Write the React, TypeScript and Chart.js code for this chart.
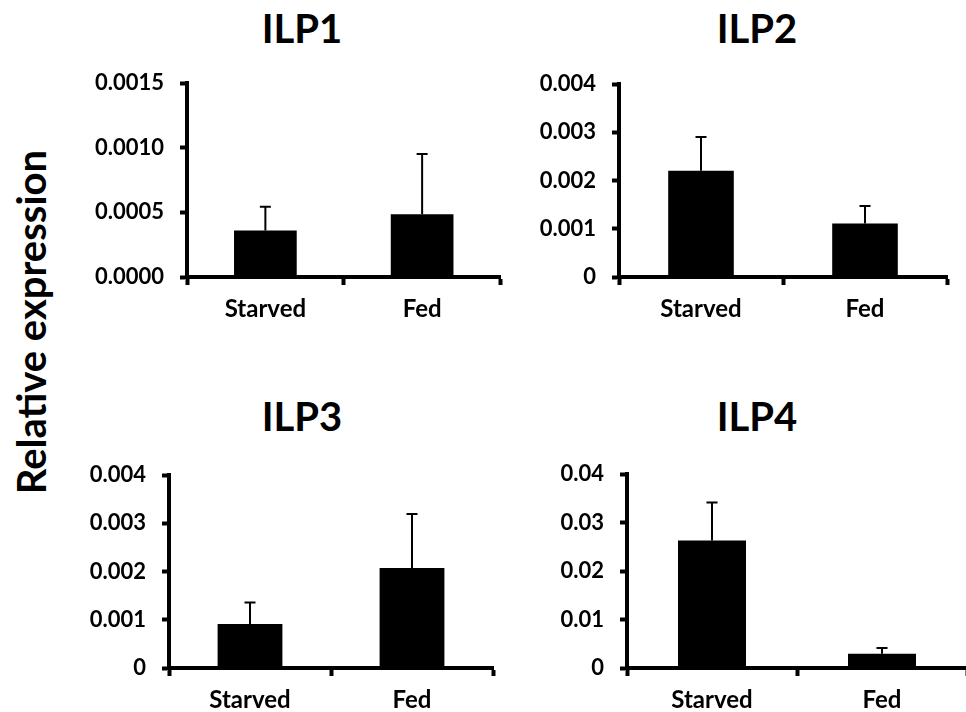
import React, { useEffect, useRef } from "react";
import { Chart, registerables } from "chart.js";

Chart.register(...registerables);

const categories = ["Starved", "Fed"];

const ilp1Values = [0.00036, 0.000485];
const ilp1Errors = [0.000184, 0.000466];
const ilp2Values = [0.0022, 0.00111];
const ilp2Errors = [0.0007, 0.00036];
const ilp3Values = [0.00091, 0.00207];
const ilp3Errors = [0.00045, 0.00112];
const ilp4Values = [0.0263, 0.00295];
const ilp4Errors = [0.0078, 0.00115];

const yMaxes = [0.0015, 0.004, 0.004, 0.04];
const ySteps = [0.0005, 0.001, 0.001, 0.01];
const yDecimals = [4, 3, 3, 2];
const titles = ["ILP1", "ILP2", "ILP3", "ILP4"];
const yAxisTitle = "Relative expression";

const FONT = "Lato, 'Open Sans', sans-serif";

// panel geometry: axis x, top tick y, zero y, right end x, title centre
const layout = [
  { axisX: 186.5, topY: 83, zeroY: 277, endX: 500, tx: 302, ty: 28 },
  { axisX: 619, topY: 84, zeroY: 277, endX: 947, tx: 757, ty: 28 },
  { axisX: 169, topY: 475, zeroY: 668, endX: 493, tx: 302, ty: 416 },
  { axisX: 627, topY: 474, zeroY: 668, endX: 967, tx: 757, ty: 416 },
];

const Y_W = 110;
const X_H = 60;
const PAD_T = 36;
const PAD_R = 6;

const errorBarPlugin = {
  id: "errorBars",
  afterDatasetsDraw(chart: any) {
    const errs: number[] = chart.options.plugins.errorBars?.errors || [];
    const vals: number[] = chart.data.datasets[0].data as number[];
    const xs = chart.scales.x;
    const ys = chart.scales.y;
    const ctx = chart.ctx;
    ctx.save();
    ctx.strokeStyle = "#000";
    ctx.lineWidth = 2;
    vals.forEach((v, i) => {
      const x = xs.getPixelForValue(i);
      const y0 = ys.getPixelForValue(v);
      const y1 = ys.getPixelForValue(v + errs[i]);
      ctx.beginPath();
      ctx.moveTo(x, y0);
      ctx.lineTo(x, y1);
      ctx.moveTo(x - 5.5, y1);
      ctx.lineTo(x + 5.5, y1);
      ctx.stroke();
    });
    ctx.restore();
  },
};

function Panel({ idx, values, errors }: { idx: number; values: number[]; errors: number[] }) {
  const ref = useRef<HTMLCanvasElement>(null);
  const g = layout[idx];
  const L = g.axisX - Y_W;
  const T = g.topY - PAD_T;
  const W = g.endX - L + PAD_R;
  const H = g.zeroY - g.topY + PAD_T + X_H;

  useEffect(() => {
    if (!ref.current) return;
    const dec = yDecimals[idx];
    const chart = new Chart(ref.current, {
      type: "bar",
      data: {
        labels: categories,
        datasets: [
          {
            data: values,
            backgroundColor: "#000",
            borderWidth: 0,
            categoryPercentage: 1,
            barPercentage: 0.4,
          },
        ],
      },
      options: {
        animation: false,
        responsive: true,
        maintainAspectRatio: false,
        layout: { padding: { top: PAD_T, right: PAD_R, left: 0, bottom: 0 } },
        plugins: {
          legend: { display: false },
          tooltip: { enabled: false },
          title: { display: false },
          errorBars: { errors },
        } as any,
        scales: {
          x: {
            type: "category",
            afterFit: (s: any) => {
              s.height = X_H;
            },
            border: { display: true, color: "#000", width: 4 },
            grid: {
              offset: true,
              drawOnChartArea: false,
              drawTicks: true,
              tickLength: 8,
              tickWidth: 4,
              tickColor: "#000",
              color: "#000",
            },
            ticks: {
              color: "#000",
              padding: 10,
              font: { family: FONT, size: 24, weight: "bold" },
            },
          },
          y: {
            type: "linear",
            min: 0,
            max: yMaxes[idx],
            afterFit: (s: any) => {
              s.width = Y_W;
            },
            border: { display: true, color: "#000", width: 4 },
            grid: {
              drawOnChartArea: false,
              drawTicks: true,
              tickLength: 7,
              tickWidth: 4,
              tickColor: "#000",
              color: "#000",
            },
            ticks: {
              stepSize: ySteps[idx],
              color: "#000",
              padding: 16,
              font: { family: FONT, size: 22, weight: "bold" },
              callback: (v: any) => {
                const n = Number(v);
                if (Math.abs(n) < 1e-12) return dec === 4 ? (0).toFixed(4) : "0";
                return n.toFixed(dec);
              },
            },
          },
        },
      } as any,
      plugins: [errorBarPlugin],
    });
    return () => chart.destroy();
  }, []);

  return (
    <div style={{ position: "absolute", left: L, top: T, width: W, height: H }}>
      <canvas ref={ref} />
    </div>
  );
}

export default function App() {
  const seriesValues = [ilp1Values, ilp2Values, ilp3Values, ilp4Values];
  const seriesErrors = [ilp1Errors, ilp2Errors, ilp3Errors, ilp4Errors];
  return (
    <div
      style={{
        position: "fixed",
        left: 0,
        top: 0,
        width: 966,
        height: 712,
        overflow: "hidden",
        background: "#fff",
        fontFamily: FONT,
      }}
    >
      {titles.map((t, i) => (
        <div
          key={t}
          style={{
            position: "absolute",
            left: layout[i].tx - 100,
            top: layout[i].ty - 25,
            width: 200,
            height: 50,
            lineHeight: "50px",
            textAlign: "center",
            fontWeight: 700,
            fontSize: 40,
            color: "#000",
          }}
        >
          {t}
        </div>
      ))}
      <div
        style={{
          position: "absolute",
          left: 31 - 200,
          top: 322 - 25,
          width: 400,
          height: 50,
          lineHeight: "50px",
          textAlign: "center",
          fontWeight: 700,
          fontSize: 40,
          color: "#000",
          transform: "rotate(-90deg)",
          whiteSpace: "nowrap",
        }}
      >
        {yAxisTitle}
      </div>
      {seriesValues.map((v, i) => (
        <Panel key={i} idx={i} values={v} errors={seriesErrors[i]} />
      ))}
    </div>
  );
}
